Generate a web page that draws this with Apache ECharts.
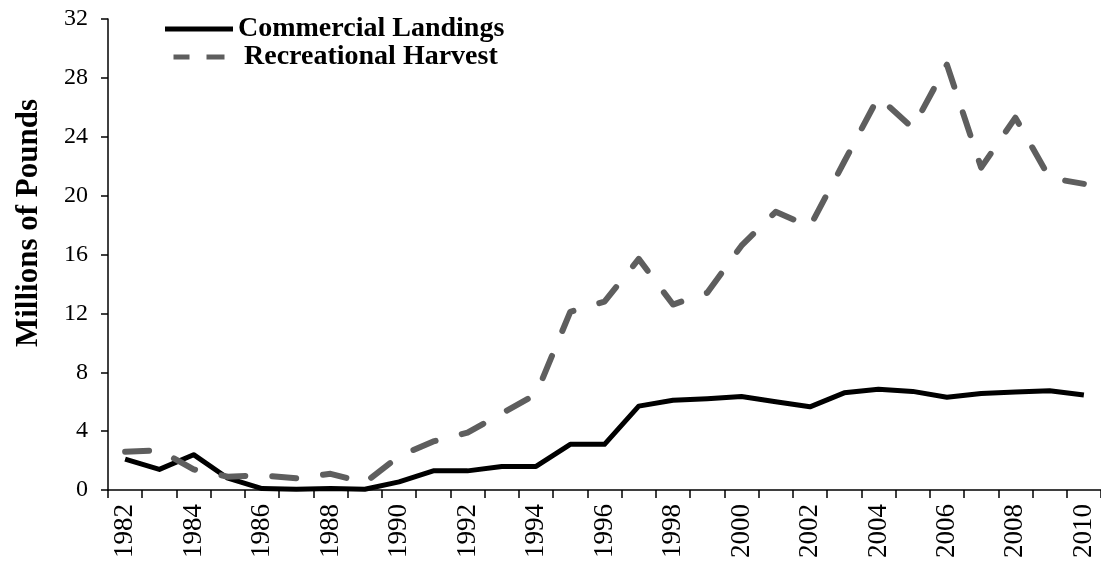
<!DOCTYPE html>
<html>
<head>
<meta charset="utf-8">
<script src="https://cdn.jsdelivr.net/npm/echarts@6/dist/echarts.min.js"></script>
<style>html,body{margin:0;padding:0;background:#fff}#c{width:1101px;height:578px}</style>
</head>
<body>
<div id="c"></div>
<script>
var years = ['1982','1983','1984','1985','1986','1987','1988','1989','1990','1991','1992','1993','1994','1995','1996','1997','1998','1999','2000','2001','2002','2003','2004','2005','2006','2007','2008','2009','2010'];
var commercial = [2.1, 1.4, 2.4, 0.8, 0.1, 0.05, 0.1, 0.05, 0.55, 1.3, 1.3, 1.6, 1.6, 3.1, 3.1, 5.7, 6.1, 6.2, 6.35, 6.0, 5.65, 6.6, 6.85, 6.7, 6.3, 6.55, 6.65, 6.75, 6.45];
var recreational = [2.6, 2.7, 1.4, 0.9, 1.0, 0.8, 1.1, 0.5, 2.3, 3.3, 3.9, 5.2, 6.5, 12.1, 12.8, 15.7, 12.6, 13.4, 16.6, 18.9, 17.9, 22.3, 26.7, 24.6, 28.9, 21.9, 25.3, 21.2, 20.8];
var yTicks = [0, 4, 8, 12, 16, 20, 24, 28, 32];
var seriesNames = ['Commercial Landings', 'Recreational Harvest'];
var yTitle = 'Millions of Pounds';

var font = 'Liberation Serif';
var chart = echarts.init(document.getElementById('c'), null, {renderer: 'canvas'});
chart.setOption({
  animation: false,
  backgroundColor: '#ffffff',
  grid: {left: 108, right: -4, top: 19, bottom: 88, containLabel: false},
  legend: {
    orient: 'vertical', left: 165, top: 15, padding: 0, itemWidth: 68, itemHeight: 5, itemGap: 0,
    data: [
      {name: seriesNames[0], icon: 'path://M0,0h68v5h-68z', itemStyle: {color: '#000'}},
      {name: seriesNames[1], icon: 'path://M0,0h16v5h-16zM33,0h18v5h-18z', itemStyle: {color: '#5e5e5e'}, textStyle: {padding: [0, 0, 0, 6]}}
    ],
    textStyle: {fontFamily: font, fontWeight: 'bold', fontSize: 28, lineHeight: 27, color: '#000'}
  },
  graphic: [{
    type: 'text', x: 29, y: 223, rotation: Math.PI / 2,
    style: {text: yTitle, font: 'bold 31px "Liberation Serif"', fill: '#000', align: 'center', verticalAlign: 'middle'}
  }],
  xAxis: {
    type: 'category', data: years, boundaryGap: true,
    axisLine: {lineStyle: {color: '#000', width: 1.5}},
    axisTick: {show: true, interval: 0, length: 8, lineStyle: {color: '#000', width: 1.5}},
    axisLabel: {interval: 1, rotate: 90, margin: 14, fontFamily: font, fontSize: 27, color: '#000'},
    splitLine: {show: false}
  },
  yAxis: {
    type: 'value', min: yTicks[0], max: yTicks[yTicks.length - 1], interval: yTicks[1] - yTicks[0],
    axisLine: {show: true, lineStyle: {color: '#000', width: 1.5}},
    axisTick: {show: true, length: 7, lineStyle: {color: '#000', width: 1.5}},
    axisLabel: {margin: 20, fontFamily: font, fontSize: 24, color: '#000'},
    splitLine: {show: false}
  },
  series: [{
    name: seriesNames[0], type: 'line', data: commercial, symbol: 'none',
    lineStyle: {color: '#000', width: 5, join: 'round'}, itemStyle: {color: '#000'}
  }, {
    name: seriesNames[1], type: 'line', data: recreational, symbol: 'none',
    lineStyle: {color: '#5e5e5e', width: 6, type: [24, 27], cap: 'round', join: 'round'}, itemStyle: {color: '#5e5e5e'}
  }]
});
</script>
</body>
</html>
